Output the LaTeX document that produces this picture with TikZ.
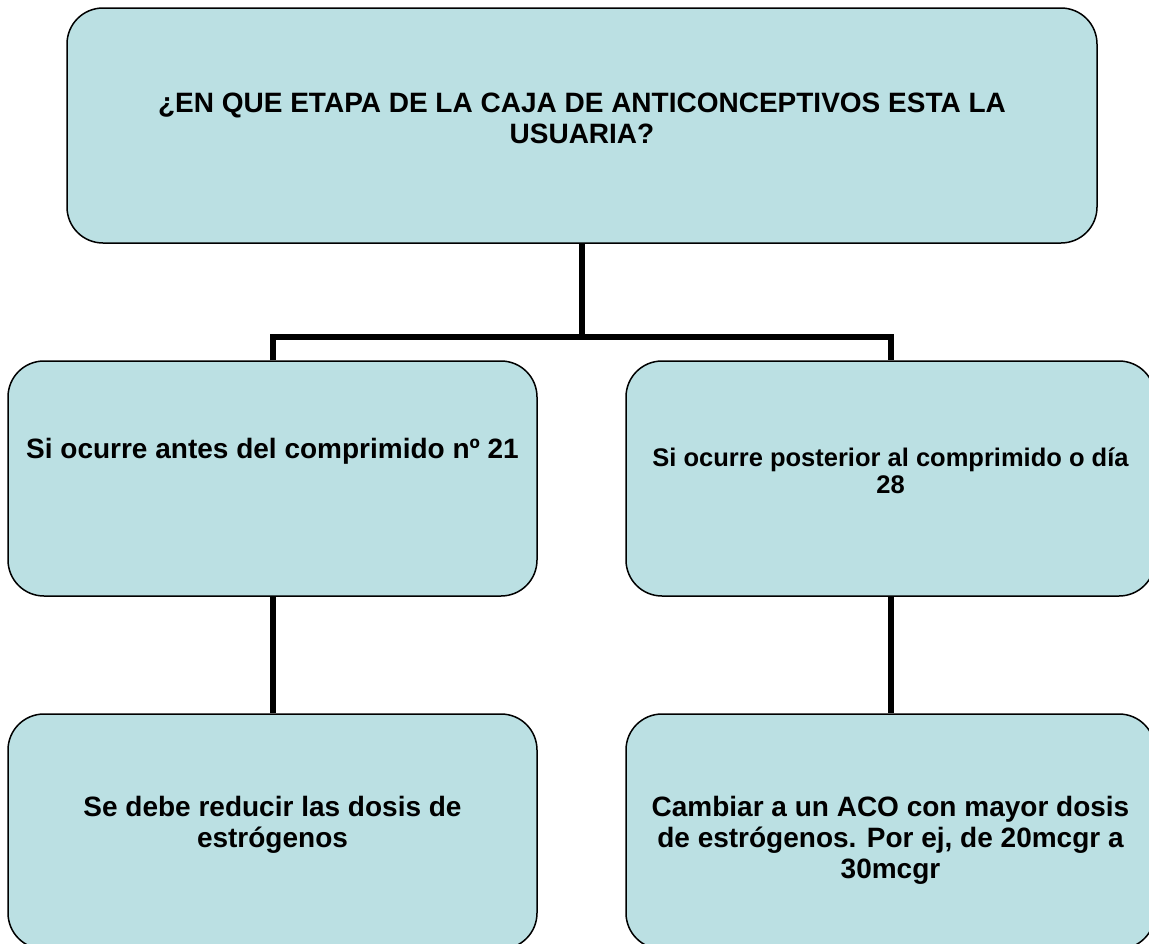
\documentclass[tikz,border=0pt]{standalone}
\usepackage{fontspec}
\setmainfont{Liberation Sans}
\usetikzlibrary{positioning}
\definecolor{boxfill}{RGB}{187,224,227}

\begin{document}
\begin{tikzpicture}
  [x=1pt, y=-1pt,
   card/.style={draw=black, line width=1.5pt, fill=boxfill, rounded corners=36pt,
     minimum width=529pt, minimum height=235pt, inner sep=0pt},
   label text/.style={inner sep=0pt, align=center, font=\bfseries\fontsize{28}{31}\selectfont},
   small text/.style={inner sep=0pt, align=center, font=\bfseries\fontsize{25.5}{27.5}\selectfont},
   link/.style={line width=6pt}]
  \useasboundingbox (0, 0) rectangle (1149, 943);
  \clip (0, 0) rectangle (1149, 943);
  \node[card, minimum width=1030pt] (top) at (582, 125.5) {};
  \node[card] (midL) at (272.5, 478.5) {};
  \node[card] (midR) at (890.5, 478.5) {};
  \node[card] (botL) at (272.5, 831.5) {};
  \node[card] (botR) at (890.5, 831.5) {};
  \node[label text, below=85pt of top.north] (top text)
    {¿EN QUE ETAPA DE LA CAJA DE ANTICONCEPTIVOS ESTA LA\\USUARIA?};
  \node[label text, below=78pt of midL.north] (midL text)
    {Si ocurre antes del comprimido nº 21};
  \node[small text, below=87pt of midR.north] (midR text)
    {Si ocurre posterior al comprimido o día\\28};
  \node[label text, below=83pt of botL.north] (botL text)
    {Se debe reducir las dosis de\\estrógenos};
  \node[label text, below=83pt of botR.north] (botR text)
    {Cambiar a un ACO con mayor dosis\\de estrógenos. Por ej, de 20mcgr a\\30mcgr};
  \coordinate (split) at (582, 337);
  \draw[link] (top.south) -- (split);
  \draw[link] (midL.north) |- (split) -| (midR.north);
  \draw[link] (midL.south) -- (botL.north);
  \draw[link] (midR.south) -- (botR.north);
\end{tikzpicture}
\end{document}
